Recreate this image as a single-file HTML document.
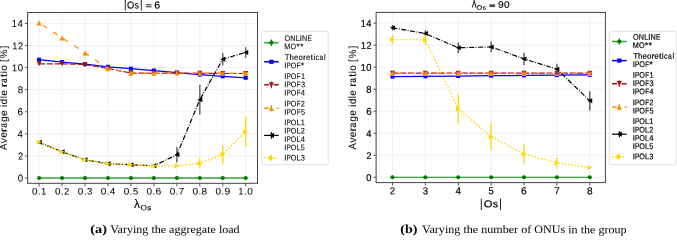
<!DOCTYPE html><html><head><meta charset="utf-8"><style>html,body{margin:0;padding:0;background:#fff;overflow:hidden}</style></head><body><svg width="677" height="237" viewBox="0 0 677 237" style="display:block;will-change:transform">
<rect width="677" height="237" fill="#ffffff"/>
<line x1="39.10" y1="12.5" x2="39.10" y2="183.3" stroke="#e6e6e6" stroke-width="0.6"/>
<line x1="62.06" y1="12.5" x2="62.06" y2="183.3" stroke="#e6e6e6" stroke-width="0.6"/>
<line x1="85.02" y1="12.5" x2="85.02" y2="183.3" stroke="#e6e6e6" stroke-width="0.6"/>
<line x1="107.98" y1="12.5" x2="107.98" y2="183.3" stroke="#e6e6e6" stroke-width="0.6"/>
<line x1="130.94" y1="12.5" x2="130.94" y2="183.3" stroke="#e6e6e6" stroke-width="0.6"/>
<line x1="153.90" y1="12.5" x2="153.90" y2="183.3" stroke="#e6e6e6" stroke-width="0.6"/>
<line x1="176.86" y1="12.5" x2="176.86" y2="183.3" stroke="#e6e6e6" stroke-width="0.6"/>
<line x1="199.82" y1="12.5" x2="199.82" y2="183.3" stroke="#e6e6e6" stroke-width="0.6"/>
<line x1="222.78" y1="12.5" x2="222.78" y2="183.3" stroke="#e6e6e6" stroke-width="0.6"/>
<line x1="245.74" y1="12.5" x2="245.74" y2="183.3" stroke="#e6e6e6" stroke-width="0.6"/>
<line x1="27.6" y1="178.00" x2="257.5" y2="178.00" stroke="#e6e6e6" stroke-width="0.6"/>
<line x1="27.6" y1="155.93" x2="257.5" y2="155.93" stroke="#e6e6e6" stroke-width="0.6"/>
<line x1="27.6" y1="133.86" x2="257.5" y2="133.86" stroke="#e6e6e6" stroke-width="0.6"/>
<line x1="27.6" y1="111.78" x2="257.5" y2="111.78" stroke="#e6e6e6" stroke-width="0.6"/>
<line x1="27.6" y1="89.71" x2="257.5" y2="89.71" stroke="#e6e6e6" stroke-width="0.6"/>
<line x1="27.6" y1="67.64" x2="257.5" y2="67.64" stroke="#e6e6e6" stroke-width="0.6"/>
<line x1="27.6" y1="45.57" x2="257.5" y2="45.57" stroke="#e6e6e6" stroke-width="0.6"/>
<line x1="27.6" y1="23.50" x2="257.5" y2="23.50" stroke="#e6e6e6" stroke-width="0.6"/>
<line x1="392.50" y1="12.4" x2="392.50" y2="182.6" stroke="#e6e6e6" stroke-width="0.6"/>
<line x1="425.38" y1="12.4" x2="425.38" y2="182.6" stroke="#e6e6e6" stroke-width="0.6"/>
<line x1="458.26" y1="12.4" x2="458.26" y2="182.6" stroke="#e6e6e6" stroke-width="0.6"/>
<line x1="491.14" y1="12.4" x2="491.14" y2="182.6" stroke="#e6e6e6" stroke-width="0.6"/>
<line x1="524.02" y1="12.4" x2="524.02" y2="182.6" stroke="#e6e6e6" stroke-width="0.6"/>
<line x1="556.90" y1="12.4" x2="556.90" y2="182.6" stroke="#e6e6e6" stroke-width="0.6"/>
<line x1="589.78" y1="12.4" x2="589.78" y2="182.6" stroke="#e6e6e6" stroke-width="0.6"/>
<line x1="376.1" y1="177.25" x2="605.4" y2="177.25" stroke="#e6e6e6" stroke-width="0.6"/>
<line x1="376.1" y1="155.23" x2="605.4" y2="155.23" stroke="#e6e6e6" stroke-width="0.6"/>
<line x1="376.1" y1="133.21" x2="605.4" y2="133.21" stroke="#e6e6e6" stroke-width="0.6"/>
<line x1="376.1" y1="111.19" x2="605.4" y2="111.19" stroke="#e6e6e6" stroke-width="0.6"/>
<line x1="376.1" y1="89.17" x2="605.4" y2="89.17" stroke="#e6e6e6" stroke-width="0.6"/>
<line x1="376.1" y1="67.15" x2="605.4" y2="67.15" stroke="#e6e6e6" stroke-width="0.6"/>
<line x1="376.1" y1="45.13" x2="605.4" y2="45.13" stroke="#e6e6e6" stroke-width="0.6"/>
<line x1="376.1" y1="23.11" x2="605.4" y2="23.11" stroke="#e6e6e6" stroke-width="0.6"/>
<polyline points="39.10,178.00 62.06,178.00 85.02,178.00 107.98,178.00 130.94,178.00 153.90,178.00 176.86,178.00 199.82,178.00 222.78,178.00 245.74,178.00" fill="none" stroke="#3aa03a" stroke-width="1.6"/>
<circle cx="39.10" cy="178.00" r="2.10" fill="#008000"/>
<circle cx="62.06" cy="178.00" r="2.10" fill="#008000"/>
<circle cx="85.02" cy="178.00" r="2.10" fill="#008000"/>
<circle cx="107.98" cy="178.00" r="2.10" fill="#008000"/>
<circle cx="130.94" cy="178.00" r="2.10" fill="#008000"/>
<circle cx="153.90" cy="178.00" r="2.10" fill="#008000"/>
<circle cx="176.86" cy="178.00" r="2.10" fill="#008000"/>
<circle cx="199.82" cy="178.00" r="2.10" fill="#008000"/>
<circle cx="222.78" cy="178.00" r="2.10" fill="#008000"/>
<circle cx="245.74" cy="178.00" r="2.10" fill="#008000"/>
<polyline points="39.10,59.69 62.06,62.01 85.02,64.22 107.98,66.76 130.94,68.63 153.90,70.51 176.86,72.61 199.82,74.59 222.78,76.36 245.74,77.79" fill="none" stroke="#0000ff" stroke-width="1.25"/>
<rect x="37.10" y="57.69" width="4.00" height="4.00" fill="#0000ff"/>
<rect x="60.06" y="60.01" width="4.00" height="4.00" fill="#0000ff"/>
<rect x="83.02" y="62.22" width="4.00" height="4.00" fill="#0000ff"/>
<rect x="105.98" y="64.76" width="4.00" height="4.00" fill="#0000ff"/>
<rect x="128.94" y="66.63" width="4.00" height="4.00" fill="#0000ff"/>
<rect x="151.90" y="68.51" width="4.00" height="4.00" fill="#0000ff"/>
<rect x="174.86" y="70.61" width="4.00" height="4.00" fill="#0000ff"/>
<rect x="197.82" y="72.59" width="4.00" height="4.00" fill="#0000ff"/>
<rect x="220.78" y="74.36" width="4.00" height="4.00" fill="#0000ff"/>
<rect x="243.74" y="75.79" width="4.00" height="4.00" fill="#0000ff"/>
<polyline points="39.10,63.78 62.06,63.78 85.02,64.55 107.98,68.52 130.94,73.05 153.90,73.27 176.86,73.16 199.82,73.27 222.78,73.49 245.74,73.49" fill="none" stroke="#a01818" stroke-width="1.2" stroke-dasharray="6 1.7" stroke-dashoffset="0"/>
<polygon points="39.10,66.28 36.60,61.28 41.60,61.28" fill="#a01818"/>
<polygon points="62.06,66.28 59.56,61.28 64.56,61.28" fill="#a01818"/>
<polygon points="85.02,67.05 82.52,62.05 87.52,62.05" fill="#a01818"/>
<polygon points="107.98,71.02 105.48,66.02 110.48,66.02" fill="#a01818"/>
<polygon points="130.94,75.55 128.44,70.55 133.44,70.55" fill="#a01818"/>
<polygon points="153.90,75.77 151.40,70.77 156.40,70.77" fill="#a01818"/>
<polygon points="176.86,75.66 174.36,70.66 179.36,70.66" fill="#a01818"/>
<polygon points="199.82,75.77 197.32,70.77 202.32,70.77" fill="#a01818"/>
<polygon points="222.78,75.99 220.28,70.99 225.28,70.99" fill="#a01818"/>
<polygon points="245.74,75.99 243.24,70.99 248.24,70.99" fill="#a01818"/>
<polyline points="39.10,22.83 62.06,37.84 85.02,52.85 107.98,68.63 130.94,73.05 153.90,73.27 176.86,72.83 199.82,73.27 222.78,73.27 245.74,73.27" fill="none" stroke="#ff8c00" stroke-width="1.3" stroke-dasharray="5 7.5" stroke-dashoffset="8"/>
<polygon points="39.10,20.23 36.50,25.43 41.70,25.43" fill="#ff8c00"/>
<polygon points="62.06,35.24 59.46,40.44 64.66,40.44" fill="#ff8c00"/>
<polygon points="85.02,50.25 82.42,55.45 87.62,55.45" fill="#ff8c00"/>
<polygon points="107.98,66.03 105.38,71.23 110.58,71.23" fill="#ff8c00"/>
<polygon points="130.94,70.45 128.34,75.65 133.54,75.65" fill="#ff8c00"/>
<polygon points="153.90,70.67 151.30,75.87 156.50,75.87" fill="#ff8c00"/>
<polygon points="176.86,70.23 174.26,75.43 179.46,75.43" fill="#ff8c00"/>
<polygon points="199.82,70.67 197.22,75.87 202.42,75.87" fill="#ff8c00"/>
<polygon points="222.78,70.67 220.18,75.87 225.38,75.87" fill="#ff8c00"/>
<polygon points="245.74,70.67 243.14,75.87 248.34,75.87" fill="#ff8c00"/>
<line x1="39.10" y1="141.25" x2="39.10" y2="143.01" stroke="#555555" stroke-width="1.3"/>
<line x1="62.06" y1="150.96" x2="62.06" y2="152.72" stroke="#555555" stroke-width="1.3"/>
<line x1="85.02" y1="158.91" x2="85.02" y2="160.67" stroke="#555555" stroke-width="1.3"/>
<line x1="107.98" y1="162.77" x2="107.98" y2="164.53" stroke="#555555" stroke-width="1.3"/>
<line x1="130.94" y1="163.88" x2="130.94" y2="165.64" stroke="#555555" stroke-width="1.3"/>
<line x1="153.90" y1="164.87" x2="153.90" y2="166.63" stroke="#555555" stroke-width="1.3"/>
<line x1="176.86" y1="147.12" x2="176.86" y2="162.52" stroke="#555555" stroke-width="1.3"/>
<line x1="199.82" y1="84.79" x2="199.82" y2="114.71" stroke="#555555" stroke-width="1.3"/>
<line x1="222.78" y1="52.98" x2="222.78" y2="65.30" stroke="#555555" stroke-width="1.3"/>
<line x1="245.74" y1="47.13" x2="245.74" y2="57.69" stroke="#555555" stroke-width="1.3"/>
<polyline points="39.10,142.13 62.06,151.84 85.02,159.79 107.98,163.65 130.94,164.76 153.90,165.75 176.86,154.82 199.82,99.75 222.78,59.14 245.74,52.41" fill="none" stroke="#000000" stroke-width="1.2" stroke-dasharray="5 1.5 0.9 1.5" stroke-dashoffset="0"/>
<polygon points="36.60,142.13 41.60,139.63 41.60,144.63" fill="#000000"/>
<polygon points="59.56,151.84 64.56,149.34 64.56,154.34" fill="#000000"/>
<polygon points="82.52,159.79 87.52,157.29 87.52,162.29" fill="#000000"/>
<polygon points="105.48,163.65 110.48,161.15 110.48,166.15" fill="#000000"/>
<polygon points="128.44,164.76 133.44,162.26 133.44,167.26" fill="#000000"/>
<polygon points="151.40,165.75 156.40,163.25 156.40,168.25" fill="#000000"/>
<polygon points="174.36,154.82 179.36,152.32 179.36,157.32" fill="#000000"/>
<polygon points="197.32,99.75 202.32,97.25 202.32,102.25" fill="#000000"/>
<polygon points="220.28,59.14 225.28,56.64 225.28,61.64" fill="#000000"/>
<polygon points="243.24,52.41 248.24,49.91 248.24,54.91" fill="#000000"/>
<line x1="39.10" y1="141.58" x2="39.10" y2="142.68" stroke="#ffd700" stroke-width="1.3"/>
<line x1="62.06" y1="151.29" x2="62.06" y2="152.39" stroke="#ffd700" stroke-width="1.3"/>
<line x1="85.02" y1="159.24" x2="85.02" y2="160.34" stroke="#ffd700" stroke-width="1.3"/>
<line x1="107.98" y1="163.10" x2="107.98" y2="164.20" stroke="#ffd700" stroke-width="1.3"/>
<line x1="130.94" y1="164.21" x2="130.94" y2="165.31" stroke="#ffd700" stroke-width="1.3"/>
<line x1="153.90" y1="165.20" x2="153.90" y2="166.30" stroke="#ffd700" stroke-width="1.3"/>
<line x1="176.86" y1="164.87" x2="176.86" y2="167.07" stroke="#ffd700" stroke-width="1.3"/>
<line x1="199.82" y1="158.48" x2="199.82" y2="168.38" stroke="#ffd700" stroke-width="1.3"/>
<line x1="222.78" y1="145.03" x2="222.78" y2="163.73" stroke="#ffd700" stroke-width="1.3"/>
<line x1="245.74" y1="116.58" x2="245.74" y2="146.28" stroke="#ffd700" stroke-width="1.3"/>
<polyline points="39.10,142.13 62.06,151.84 85.02,159.79 107.98,163.65 130.94,164.76 153.90,165.75 176.86,165.97 199.82,163.43 222.78,154.38 245.74,131.43" fill="none" stroke="#ffd700" stroke-width="1.3" stroke-dasharray="1.7 1.7" stroke-dashoffset="0"/>
<polygon points="41.50,142.13 36.70,139.73 36.70,144.53" fill="#ffd700"/>
<polygon points="64.46,151.84 59.66,149.44 59.66,154.24" fill="#ffd700"/>
<polygon points="87.42,159.79 82.62,157.39 82.62,162.19" fill="#ffd700"/>
<polygon points="110.38,163.65 105.58,161.25 105.58,166.05" fill="#ffd700"/>
<polygon points="133.34,164.76 128.54,162.36 128.54,167.16" fill="#ffd700"/>
<polygon points="156.30,165.75 151.50,163.35 151.50,168.15" fill="#ffd700"/>
<polygon points="179.26,165.97 174.46,163.57 174.46,168.37" fill="#ffd700"/>
<polygon points="202.22,163.43 197.42,161.03 197.42,165.83" fill="#ffd700"/>
<polygon points="225.18,154.38 220.38,151.98 220.38,156.78" fill="#ffd700"/>
<polygon points="248.14,131.43 243.34,129.03 243.34,133.83" fill="#ffd700"/>
<polyline points="392.50,177.25 425.38,177.25 458.26,177.25 491.14,177.25 524.02,177.25 556.90,177.25 589.78,177.25" fill="none" stroke="#138813" stroke-width="1.2"/>
<circle cx="392.50" cy="177.25" r="2.10" fill="#008000"/>
<circle cx="425.38" cy="177.25" r="2.10" fill="#008000"/>
<circle cx="458.26" cy="177.25" r="2.10" fill="#008000"/>
<circle cx="491.14" cy="177.25" r="2.10" fill="#008000"/>
<circle cx="524.02" cy="177.25" r="2.10" fill="#008000"/>
<circle cx="556.90" cy="177.25" r="2.10" fill="#008000"/>
<circle cx="589.78" cy="177.25" r="2.10" fill="#008000"/>
<polyline points="392.50,76.62 425.38,76.32 458.26,76.02 491.14,75.73 524.02,75.43 556.90,75.13 589.78,74.83" fill="none" stroke="#0000ff" stroke-width="1.25"/>
<rect x="390.50" y="74.62" width="4.00" height="4.00" fill="#0000ff"/>
<rect x="423.38" y="74.32" width="4.00" height="4.00" fill="#0000ff"/>
<rect x="456.26" y="74.02" width="4.00" height="4.00" fill="#0000ff"/>
<rect x="489.14" y="73.73" width="4.00" height="4.00" fill="#0000ff"/>
<rect x="522.02" y="73.43" width="4.00" height="4.00" fill="#0000ff"/>
<rect x="554.90" y="73.13" width="4.00" height="4.00" fill="#0000ff"/>
<rect x="587.78" y="72.83" width="4.00" height="4.00" fill="#0000ff"/>
<polyline points="392.50,73.21 425.38,73.21 458.26,73.21 491.14,73.21 524.02,73.21 556.90,73.21 589.78,73.21" fill="none" stroke="#a01818" stroke-width="1.2" stroke-dasharray="6 1.7" stroke-dashoffset="0"/>
<polygon points="392.50,75.71 390.00,70.71 395.00,70.71" fill="#a01818"/>
<polygon points="425.38,75.71 422.88,70.71 427.88,70.71" fill="#a01818"/>
<polygon points="458.26,75.71 455.76,70.71 460.76,70.71" fill="#a01818"/>
<polygon points="491.14,75.71 488.64,70.71 493.64,70.71" fill="#a01818"/>
<polygon points="524.02,75.71 521.52,70.71 526.52,70.71" fill="#a01818"/>
<polygon points="556.90,75.71 554.40,70.71 559.40,70.71" fill="#a01818"/>
<polygon points="589.78,75.71 587.28,70.71 592.28,70.71" fill="#a01818"/>
<polyline points="392.50,73.43 425.38,73.43 458.26,73.43 491.14,73.43 524.02,73.43 556.90,73.43 589.78,73.43" fill="none" stroke="#ff8c00" stroke-width="1.3" stroke-dasharray="5 7.5" stroke-dashoffset="8"/>
<polygon points="392.50,70.83 389.90,76.03 395.10,76.03" fill="#ff8c00"/>
<polygon points="425.38,70.83 422.78,76.03 427.98,76.03" fill="#ff8c00"/>
<polygon points="458.26,70.83 455.66,76.03 460.86,76.03" fill="#ff8c00"/>
<polygon points="491.14,70.83 488.54,76.03 493.74,76.03" fill="#ff8c00"/>
<polygon points="524.02,70.83 521.42,76.03 526.62,76.03" fill="#ff8c00"/>
<polygon points="556.90,70.83 554.30,76.03 559.50,76.03" fill="#ff8c00"/>
<polygon points="589.78,70.83 587.18,76.03 592.38,76.03" fill="#ff8c00"/>
<line x1="392.50" y1="24.98" x2="392.50" y2="30.48" stroke="#4a4a4a" stroke-width="1.3"/>
<line x1="425.38" y1="30.49" x2="425.38" y2="36.65" stroke="#4a4a4a" stroke-width="1.3"/>
<line x1="458.26" y1="42.49" x2="458.26" y2="53.05" stroke="#4a4a4a" stroke-width="1.3"/>
<line x1="491.14" y1="41.61" x2="491.14" y2="52.17" stroke="#4a4a4a" stroke-width="1.3"/>
<line x1="524.02" y1="52.73" x2="524.02" y2="65.05" stroke="#4a4a4a" stroke-width="1.3"/>
<line x1="556.90" y1="63.63" x2="556.90" y2="74.63" stroke="#4a4a4a" stroke-width="1.3"/>
<line x1="589.78" y1="91.27" x2="589.78" y2="110.41" stroke="#4a4a4a" stroke-width="1.3"/>
<polyline points="392.50,27.73 425.38,33.57 458.26,47.77 491.14,46.89 524.02,58.89 556.90,69.13 589.78,100.84" fill="none" stroke="#000000" stroke-width="1.2" stroke-dasharray="5 1.5 0.9 1.5" stroke-dashoffset="0"/>
<polygon points="390.00,27.73 395.00,25.23 395.00,30.23" fill="#000000"/>
<polygon points="422.88,33.57 427.88,31.07 427.88,36.07" fill="#000000"/>
<polygon points="455.76,47.77 460.76,45.27 460.76,50.27" fill="#000000"/>
<polygon points="488.64,46.89 493.64,44.39 493.64,49.39" fill="#000000"/>
<polygon points="521.52,58.89 526.52,56.39 526.52,61.39" fill="#000000"/>
<polygon points="554.40,69.13 559.40,66.63 559.40,71.63" fill="#000000"/>
<polygon points="587.28,100.84 592.28,98.34 592.28,103.34" fill="#000000"/>
<line x1="392.50" y1="35.11" x2="392.50" y2="43.91" stroke="#ffd700" stroke-width="1.3"/>
<line x1="425.38" y1="35.01" x2="425.38" y2="44.69" stroke="#ffd700" stroke-width="1.3"/>
<line x1="458.26" y1="94.03" x2="458.26" y2="123.51" stroke="#ffd700" stroke-width="1.3"/>
<line x1="491.14" y1="122.98" x2="491.14" y2="150.48" stroke="#ffd700" stroke-width="1.3"/>
<line x1="524.02" y1="144.56" x2="524.02" y2="163.26" stroke="#ffd700" stroke-width="1.3"/>
<line x1="556.90" y1="157.55" x2="556.90" y2="168.11" stroke="#ffd700" stroke-width="1.3"/>
<line x1="589.78" y1="166.46" x2="589.78" y2="168.66" stroke="#ffd700" stroke-width="1.3"/>
<polyline points="392.50,39.51 425.38,39.85 458.26,108.77 491.14,136.73 524.02,153.91 556.90,162.83 589.78,167.56" fill="none" stroke="#ffd700" stroke-width="1.3" stroke-dasharray="1.6 1.8" stroke-dashoffset="0"/>
<polygon points="394.90,39.51 390.10,37.11 390.10,41.91" fill="#ffd700"/>
<polygon points="427.78,39.85 422.98,37.45 422.98,42.25" fill="#ffd700"/>
<polygon points="460.66,108.77 455.86,106.37 455.86,111.17" fill="#ffd700"/>
<polygon points="493.54,136.73 488.74,134.33 488.74,139.13" fill="#ffd700"/>
<polygon points="526.42,153.91 521.62,151.51 521.62,156.31" fill="#ffd700"/>
<polygon points="559.30,162.83 554.50,160.43 554.50,165.23" fill="#ffd700"/>
<polygon points="592.18,167.56 587.38,165.16 587.38,169.96" fill="#ffd700"/>
<rect x="27.6" y="12.5" width="229.90" height="170.80" fill="none" stroke="#444444" stroke-width="1"/>
<line x1="39.10" y1="183.3" x2="39.10" y2="186.3" stroke="#444444" stroke-width="0.9"/>
<g font-size="9.452" font-family='"Liberation Sans", sans-serif' font-weight="normal" fill="#000000" stroke="#000000" stroke-width="0.05" transform="rotate(0.05 32.33 194.50)"><text x="31.94" y="194.50" textLength="5.54" lengthAdjust="spacingAndGlyphs">0</text><text x="37.80" y="194.50" textLength="2.84" lengthAdjust="spacingAndGlyphs">.</text><text x="41.04" y="194.50" textLength="5.29" lengthAdjust="spacingAndGlyphs">1</text></g>
<line x1="62.06" y1="183.3" x2="62.06" y2="186.3" stroke="#444444" stroke-width="0.9"/>
<g font-size="9.452" font-family='"Liberation Sans", sans-serif' font-weight="normal" fill="#000000" stroke="#000000" stroke-width="0.05" transform="rotate(0.05 55.33 194.50)"><text x="54.94" y="194.50" textLength="5.54" lengthAdjust="spacingAndGlyphs">0</text><text x="60.80" y="194.50" textLength="2.84" lengthAdjust="spacingAndGlyphs">.</text><text x="63.93" y="194.50" textLength="5.34" lengthAdjust="spacingAndGlyphs">2</text></g>
<line x1="85.02" y1="183.3" x2="85.02" y2="186.3" stroke="#444444" stroke-width="0.9"/>
<g font-size="9.452" font-family='"Liberation Sans", sans-serif' font-weight="normal" fill="#000000" stroke="#000000" stroke-width="0.05" transform="rotate(0.05 78.20 194.50)"><text x="77.81" y="194.50" textLength="5.54" lengthAdjust="spacingAndGlyphs">0</text><text x="83.66" y="194.50" textLength="2.84" lengthAdjust="spacingAndGlyphs">.</text><text x="86.94" y="194.50" textLength="5.32" lengthAdjust="spacingAndGlyphs">3</text></g>
<line x1="107.98" y1="183.3" x2="107.98" y2="186.3" stroke="#444444" stroke-width="0.9"/>
<g font-size="9.452" font-family='"Liberation Sans", sans-serif' font-weight="normal" fill="#000000" stroke="#000000" stroke-width="0.05" transform="rotate(0.05 101.04 194.50)"><text x="100.65" y="194.50" textLength="5.54" lengthAdjust="spacingAndGlyphs">0</text><text x="106.51" y="194.50" textLength="2.84" lengthAdjust="spacingAndGlyphs">.</text><text x="109.67" y="194.50" textLength="5.54" lengthAdjust="spacingAndGlyphs">4</text></g>
<line x1="130.94" y1="183.3" x2="130.94" y2="186.3" stroke="#444444" stroke-width="0.9"/>
<g font-size="9.452" font-family='"Liberation Sans", sans-serif' font-weight="normal" fill="#000000" stroke="#000000" stroke-width="0.05" transform="rotate(0.05 124.15 194.50)"><text x="123.76" y="194.50" textLength="5.54" lengthAdjust="spacingAndGlyphs">0</text><text x="129.62" y="194.50" textLength="2.84" lengthAdjust="spacingAndGlyphs">.</text><text x="132.90" y="194.50" textLength="5.23" lengthAdjust="spacingAndGlyphs">5</text></g>
<line x1="153.90" y1="183.3" x2="153.90" y2="186.3" stroke="#444444" stroke-width="0.9"/>
<g font-size="9.452" font-family='"Liberation Sans", sans-serif' font-weight="normal" fill="#000000" stroke="#000000" stroke-width="0.05" transform="rotate(0.05 146.99 194.50)"><text x="146.61" y="194.50" textLength="5.54" lengthAdjust="spacingAndGlyphs">0</text><text x="152.46" y="194.50" textLength="2.84" lengthAdjust="spacingAndGlyphs">.</text><text x="155.52" y="194.50" textLength="5.73" lengthAdjust="spacingAndGlyphs">6</text></g>
<line x1="176.86" y1="183.3" x2="176.86" y2="186.3" stroke="#444444" stroke-width="0.9"/>
<g font-size="9.452" font-family='"Liberation Sans", sans-serif' font-weight="normal" fill="#000000" stroke="#000000" stroke-width="0.05" transform="rotate(0.05 170.06 194.50)"><text x="169.67" y="194.50" textLength="5.54" lengthAdjust="spacingAndGlyphs">0</text><text x="175.53" y="194.50" textLength="2.84" lengthAdjust="spacingAndGlyphs">.</text><text x="178.73" y="194.50" textLength="5.42" lengthAdjust="spacingAndGlyphs">7</text></g>
<line x1="199.82" y1="183.3" x2="199.82" y2="186.3" stroke="#444444" stroke-width="0.9"/>
<g font-size="9.452" font-family='"Liberation Sans", sans-serif' font-weight="normal" fill="#000000" stroke="#000000" stroke-width="0.05" transform="rotate(0.05 192.94 194.50)"><text x="192.55" y="194.50" textLength="5.54" lengthAdjust="spacingAndGlyphs">0</text><text x="198.41" y="194.50" textLength="2.84" lengthAdjust="spacingAndGlyphs">.</text><text x="201.54" y="194.50" textLength="5.60" lengthAdjust="spacingAndGlyphs">8</text></g>
<line x1="222.78" y1="183.3" x2="222.78" y2="186.3" stroke="#444444" stroke-width="0.9"/>
<g font-size="9.452" font-family='"Liberation Sans", sans-serif' font-weight="normal" fill="#000000" stroke="#000000" stroke-width="0.05" transform="rotate(0.05 215.91 194.50)"><text x="215.52" y="194.50" textLength="5.54" lengthAdjust="spacingAndGlyphs">0</text><text x="221.38" y="194.50" textLength="2.84" lengthAdjust="spacingAndGlyphs">.</text><text x="224.42" y="194.50" textLength="5.72" lengthAdjust="spacingAndGlyphs">9</text></g>
<line x1="245.74" y1="183.3" x2="245.74" y2="186.3" stroke="#444444" stroke-width="0.9"/>
<g font-size="9.452" font-family='"Liberation Sans", sans-serif' font-weight="normal" fill="#000000" stroke="#000000" stroke-width="0.05" transform="rotate(0.05 239.06 194.50)"><text x="238.33" y="194.50" textLength="5.29" lengthAdjust="spacingAndGlyphs">1</text><text x="244.11" y="194.50" textLength="2.84" lengthAdjust="spacingAndGlyphs">.</text><text x="247.27" y="194.50" textLength="5.54" lengthAdjust="spacingAndGlyphs">0</text></g>
<line x1="25.0" y1="178.00" x2="27.6" y2="178.00" stroke="#444444" stroke-width="0.9"/>
<g font-size="9.882" font-family='"Liberation Sans", sans-serif' font-weight="normal" fill="#000000" stroke="#000000" stroke-width="0.05" transform="rotate(0.05 18.01 181.60)"><text x="17.64" y="181.60" textLength="5.33" lengthAdjust="spacingAndGlyphs">0</text></g>
<line x1="25.0" y1="155.93" x2="27.6" y2="155.93" stroke="#444444" stroke-width="0.9"/>
<g font-size="9.882" font-family='"Liberation Sans", sans-serif' font-weight="normal" fill="#000000" stroke="#000000" stroke-width="0.05" transform="rotate(0.05 18.39 159.53)"><text x="17.92" y="159.53" textLength="5.14" lengthAdjust="spacingAndGlyphs">2</text></g>
<line x1="25.0" y1="133.86" x2="27.6" y2="133.86" stroke="#444444" stroke-width="0.9"/>
<g font-size="10.029" font-family='"Liberation Sans", sans-serif' font-weight="normal" fill="#000000" stroke="#000000" stroke-width="0.05" transform="rotate(0.05 17.77 137.46)"><text x="17.55" y="137.46" textLength="5.34" lengthAdjust="spacingAndGlyphs">4</text></g>
<line x1="25.0" y1="111.78" x2="27.6" y2="111.78" stroke="#444444" stroke-width="0.9"/>
<g font-size="9.882" font-family='"Liberation Sans", sans-serif' font-weight="normal" fill="#000000" stroke="#000000" stroke-width="0.05" transform="rotate(0.05 18.02 115.38)"><text x="17.51" y="115.38" textLength="5.52" lengthAdjust="spacingAndGlyphs">6</text></g>
<line x1="25.0" y1="89.71" x2="27.6" y2="89.71" stroke="#444444" stroke-width="0.9"/>
<g font-size="9.882" font-family='"Liberation Sans", sans-serif' font-weight="normal" fill="#000000" stroke="#000000" stroke-width="0.05" transform="rotate(0.05 18.05 93.31)"><text x="17.63" y="93.31" textLength="5.39" lengthAdjust="spacingAndGlyphs">8</text></g>
<line x1="25.0" y1="67.64" x2="27.6" y2="67.64" stroke="#444444" stroke-width="0.9"/>
<g font-size="9.882" font-family='"Liberation Sans", sans-serif' font-weight="normal" fill="#000000" stroke="#000000" stroke-width="0.05" transform="rotate(0.05 12.62 71.24)"><text x="11.93" y="71.24" textLength="5.10" lengthAdjust="spacingAndGlyphs">1</text><text x="17.64" y="71.24" textLength="5.33" lengthAdjust="spacingAndGlyphs">0</text></g>
<line x1="25.0" y1="45.57" x2="27.6" y2="45.57" stroke="#444444" stroke-width="0.9"/>
<g font-size="9.882" font-family='"Liberation Sans", sans-serif' font-weight="normal" fill="#000000" stroke="#000000" stroke-width="0.05" transform="rotate(0.05 12.93 49.17)"><text x="12.23" y="49.17" textLength="5.10" lengthAdjust="spacingAndGlyphs">1</text><text x="17.92" y="49.17" textLength="5.14" lengthAdjust="spacingAndGlyphs">2</text></g>
<line x1="25.0" y1="23.50" x2="27.6" y2="23.50" stroke="#444444" stroke-width="0.9"/>
<g font-size="10.029" font-family='"Liberation Sans", sans-serif' font-weight="normal" fill="#000000" stroke="#000000" stroke-width="0.05" transform="rotate(0.05 12.53 27.10)"><text x="11.83" y="27.10" textLength="5.10" lengthAdjust="spacingAndGlyphs">1</text><text x="17.55" y="27.10" textLength="5.34" lengthAdjust="spacingAndGlyphs">4</text></g>
<rect x="376.1" y="12.4" width="229.30" height="170.20" fill="none" stroke="#444444" stroke-width="1"/>
<line x1="392.50" y1="182.6" x2="392.50" y2="185.6" stroke="#444444" stroke-width="0.9"/>
<g font-size="10.025" font-family='"Liberation Sans", sans-serif' font-weight="normal" fill="#000000" stroke="#000000" stroke-width="0.2" transform="rotate(0.05 390.31 194.30)"><text x="389.83" y="194.30" textLength="5.34" lengthAdjust="spacingAndGlyphs">2</text></g>
<line x1="425.38" y1="182.6" x2="425.38" y2="185.6" stroke="#444444" stroke-width="0.9"/>
<g font-size="10.025" font-family='"Liberation Sans", sans-serif' font-weight="normal" fill="#000000" stroke="#000000" stroke-width="0.2" transform="rotate(0.05 423.11 194.30)"><text x="422.75" y="194.30" textLength="5.32" lengthAdjust="spacingAndGlyphs">3</text></g>
<line x1="458.26" y1="182.6" x2="458.26" y2="185.6" stroke="#444444" stroke-width="0.9"/>
<g font-size="10.175" font-family='"Liberation Sans", sans-serif' font-weight="normal" fill="#000000" stroke="#000000" stroke-width="0.2" transform="rotate(0.05 455.75 194.30)"><text x="455.52" y="194.30" textLength="5.54" lengthAdjust="spacingAndGlyphs">4</text></g>
<line x1="491.14" y1="182.6" x2="491.14" y2="185.6" stroke="#444444" stroke-width="0.9"/>
<g font-size="10.175" font-family='"Liberation Sans", sans-serif' font-weight="normal" fill="#000000" stroke="#000000" stroke-width="0.2" transform="rotate(0.05 488.91 194.30)"><text x="488.53" y="194.30" textLength="5.23" lengthAdjust="spacingAndGlyphs">5</text></g>
<line x1="524.02" y1="182.6" x2="524.02" y2="185.6" stroke="#444444" stroke-width="0.9"/>
<g font-size="10.025" font-family='"Liberation Sans", sans-serif' font-weight="normal" fill="#000000" stroke="#000000" stroke-width="0.2" transform="rotate(0.05 521.64 194.30)"><text x="521.12" y="194.30" textLength="5.73" lengthAdjust="spacingAndGlyphs">6</text></g>
<line x1="556.90" y1="182.6" x2="556.90" y2="185.6" stroke="#444444" stroke-width="0.9"/>
<g font-size="10.175" font-family='"Liberation Sans", sans-serif' font-weight="normal" fill="#000000" stroke="#000000" stroke-width="0.2" transform="rotate(0.05 554.69 194.30)"><text x="554.19" y="194.30" textLength="5.42" lengthAdjust="spacingAndGlyphs">7</text></g>
<line x1="589.78" y1="182.6" x2="589.78" y2="185.6" stroke="#444444" stroke-width="0.9"/>
<g font-size="10.025" font-family='"Liberation Sans", sans-serif' font-weight="normal" fill="#000000" stroke="#000000" stroke-width="0.2" transform="rotate(0.05 587.42 194.30)"><text x="586.98" y="194.30" textLength="5.60" lengthAdjust="spacingAndGlyphs">8</text></g>
<line x1="373.5" y1="177.25" x2="376.1" y2="177.25" stroke="#444444" stroke-width="0.9"/>
<g font-size="9.739" font-family='"Liberation Sans", sans-serif' font-weight="normal" fill="#000000" stroke="#000000" stroke-width="0.2" transform="rotate(0.05 366.64 180.95)"><text x="366.28" y="180.95" textLength="5.19" lengthAdjust="spacingAndGlyphs">0</text></g>
<line x1="373.5" y1="155.23" x2="376.1" y2="155.23" stroke="#444444" stroke-width="0.9"/>
<g font-size="9.739" font-family='"Liberation Sans", sans-serif' font-weight="normal" fill="#000000" stroke="#000000" stroke-width="0.2" transform="rotate(0.05 367.00 158.93)"><text x="366.55" y="158.93" textLength="5.00" lengthAdjust="spacingAndGlyphs">2</text></g>
<line x1="373.5" y1="133.21" x2="376.1" y2="133.21" stroke="#444444" stroke-width="0.9"/>
<g font-size="9.884" font-family='"Liberation Sans", sans-serif' font-weight="normal" fill="#000000" stroke="#000000" stroke-width="0.2" transform="rotate(0.05 366.40 136.91)"><text x="366.18" y="136.91" textLength="5.19" lengthAdjust="spacingAndGlyphs">4</text></g>
<line x1="373.5" y1="111.19" x2="376.1" y2="111.19" stroke="#444444" stroke-width="0.9"/>
<g font-size="9.739" font-family='"Liberation Sans", sans-serif' font-weight="normal" fill="#000000" stroke="#000000" stroke-width="0.2" transform="rotate(0.05 366.64 114.89)"><text x="366.15" y="114.89" textLength="5.37" lengthAdjust="spacingAndGlyphs">6</text></g>
<line x1="373.5" y1="89.17" x2="376.1" y2="89.17" stroke="#444444" stroke-width="0.9"/>
<g font-size="9.739" font-family='"Liberation Sans", sans-serif' font-weight="normal" fill="#000000" stroke="#000000" stroke-width="0.2" transform="rotate(0.05 366.68 92.87)"><text x="366.27" y="92.87" textLength="5.24" lengthAdjust="spacingAndGlyphs">8</text></g>
<line x1="373.5" y1="67.15" x2="376.1" y2="67.15" stroke="#444444" stroke-width="0.9"/>
<g font-size="9.739" font-family='"Liberation Sans", sans-serif' font-weight="normal" fill="#000000" stroke="#000000" stroke-width="0.2" transform="rotate(0.05 361.40 70.85)"><text x="360.72" y="70.85" textLength="4.96" lengthAdjust="spacingAndGlyphs">1</text><text x="366.28" y="70.85" textLength="5.19" lengthAdjust="spacingAndGlyphs">0</text></g>
<line x1="373.5" y1="45.13" x2="376.1" y2="45.13" stroke="#444444" stroke-width="0.9"/>
<g font-size="9.739" font-family='"Liberation Sans", sans-serif' font-weight="normal" fill="#000000" stroke="#000000" stroke-width="0.2" transform="rotate(0.05 361.70 48.83)"><text x="361.02" y="48.83" textLength="4.96" lengthAdjust="spacingAndGlyphs">1</text><text x="366.55" y="48.83" textLength="5.00" lengthAdjust="spacingAndGlyphs">2</text></g>
<line x1="373.5" y1="23.11" x2="376.1" y2="23.11" stroke="#444444" stroke-width="0.9"/>
<g font-size="9.884" font-family='"Liberation Sans", sans-serif' font-weight="normal" fill="#000000" stroke="#000000" stroke-width="0.2" transform="rotate(0.05 361.31 26.81)"><text x="360.63" y="26.81" textLength="4.96" lengthAdjust="spacingAndGlyphs">1</text><text x="366.18" y="26.81" textLength="5.19" lengthAdjust="spacingAndGlyphs">4</text></g>
<line x1="125.30" y1="-1.00" x2="125.30" y2="10.60" stroke="#000000" stroke-width="0.85"/>
<line x1="141.30" y1="-1.00" x2="141.30" y2="10.60" stroke="#000000" stroke-width="0.85"/>
<g font-size="9.882" font-family='"Liberation Sans", sans-serif' font-weight="normal" fill="#000000" stroke="#000000" stroke-width="0.15" transform="rotate(0.05 127.50 8.55)"><text x="127.06" y="8.55" textLength="7.22" lengthAdjust="spacingAndGlyphs">O</text><text x="134.62" y="8.55" textLength="4.50" lengthAdjust="spacingAndGlyphs">s</text></g>
<line x1="145.9" y1="4.8" x2="151.6" y2="4.8" stroke="#000" stroke-width="0.85"/><line x1="145.9" y1="6.8" x2="151.6" y2="6.8" stroke="#000" stroke-width="0.85"/>
<g font-size="9.882" font-family='"Liberation Sans", sans-serif' font-weight="normal" fill="#000000" stroke="#000000" stroke-width="0.15" transform="rotate(0.05 154.80 8.55)"><text x="154.26" y="8.55" textLength="5.91" lengthAdjust="spacingAndGlyphs">6</text></g>
<g font-size="13.387" font-family='"Liberation Sans", sans-serif' font-weight="normal" fill="#000000" stroke="#000000" stroke-width="0.15" transform="rotate(0.05 471.70 7.60)"><text x="471.64" y="7.60" textLength="4.75" lengthAdjust="spacingAndGlyphs">λ</text></g>
<g font-size="6.588" font-family='"Liberation Sans", sans-serif' font-weight="normal" fill="#000000" stroke="#000000" stroke-width="0.1" transform="rotate(0.05 476.90 9.70)"><text x="476.55" y="9.70" textLength="5.69" lengthAdjust="spacingAndGlyphs">O</text><text x="482.51" y="9.70" textLength="3.55" lengthAdjust="spacingAndGlyphs">s</text></g>
<rect x="489.4" y="4.3" width="5.7" height="2.8" fill="#505050"/>
<g font-size="9.452" font-family='"Liberation Sans", sans-serif' font-weight="normal" fill="#000000" stroke="#000000" stroke-width="0.15" transform="rotate(0.05 498.40 7.75)"><text x="497.92" y="7.75" textLength="5.72" lengthAdjust="spacingAndGlyphs">9</text><text x="504.05" y="7.75" textLength="5.54" lengthAdjust="spacingAndGlyphs">0</text></g>
<g font-size="9.884" font-family='"Liberation Sans", sans-serif' font-weight="normal" fill="#000000" stroke="#000000" stroke-width="0.06" transform="translate(6.90,98.15) rotate(-89.95)"><text x="-51.77" y="0.00" textLength="6.40" lengthAdjust="spacingAndGlyphs">A</text><text x="-45.06" y="0.00" textLength="5.14" lengthAdjust="spacingAndGlyphs">v</text><text x="-39.58" y="0.00" textLength="5.72" lengthAdjust="spacingAndGlyphs">e</text><text x="-33.76" y="0.00" textLength="4.06" lengthAdjust="spacingAndGlyphs">r</text><text x="-29.69" y="0.00" textLength="4.76" lengthAdjust="spacingAndGlyphs">a</text><text x="-23.97" y="0.00" textLength="5.76" lengthAdjust="spacingAndGlyphs">g</text><text x="-17.93" y="0.00" textLength="5.72" lengthAdjust="spacingAndGlyphs">e</text><text x="-8.88" y="0.00" textLength="2.16" lengthAdjust="spacingAndGlyphs">i</text><text x="-6.39" y="0.00" textLength="5.76" lengthAdjust="spacingAndGlyphs">d</text><text x="-0.19" y="0.00" textLength="2.16" lengthAdjust="spacingAndGlyphs">l</text><text x="2.30" y="0.00" textLength="5.72" lengthAdjust="spacingAndGlyphs">e</text><text x="11.15" y="0.00" textLength="4.06" lengthAdjust="spacingAndGlyphs">r</text><text x="15.22" y="0.00" textLength="4.76" lengthAdjust="spacingAndGlyphs">a</text><text x="20.91" y="0.00" textLength="3.54" lengthAdjust="spacingAndGlyphs">t</text><text x="24.83" y="0.00" textLength="2.16" lengthAdjust="spacingAndGlyphs">i</text><text x="27.33" y="0.00" textLength="5.63" lengthAdjust="spacingAndGlyphs">o</text><text x="36.20" y="0.00" textLength="2.76" lengthAdjust="spacingAndGlyphs">[</text><text x="39.98" y="0.00" textLength="8.70" lengthAdjust="spacingAndGlyphs">%</text><text x="49.70" y="0.00" textLength="2.76" lengthAdjust="spacingAndGlyphs">]</text></g>
<g font-size="10.320" font-family='"Liberation Sans", sans-serif' font-weight="normal" fill="#000000" stroke="#000000" stroke-width="0.06" transform="translate(356.00,97.95) rotate(-89.95)"><text x="-51.57" y="0.00" textLength="6.37" lengthAdjust="spacingAndGlyphs">A</text><text x="-44.89" y="0.00" textLength="5.12" lengthAdjust="spacingAndGlyphs">v</text><text x="-39.43" y="0.00" textLength="5.70" lengthAdjust="spacingAndGlyphs">e</text><text x="-33.63" y="0.00" textLength="4.05" lengthAdjust="spacingAndGlyphs">r</text><text x="-29.57" y="0.00" textLength="4.74" lengthAdjust="spacingAndGlyphs">a</text><text x="-23.88" y="0.00" textLength="5.73" lengthAdjust="spacingAndGlyphs">g</text><text x="-17.86" y="0.00" textLength="5.70" lengthAdjust="spacingAndGlyphs">e</text><text x="-8.85" y="0.00" textLength="2.15" lengthAdjust="spacingAndGlyphs">i</text><text x="-6.37" y="0.00" textLength="5.73" lengthAdjust="spacingAndGlyphs">d</text><text x="-0.19" y="0.00" textLength="2.15" lengthAdjust="spacingAndGlyphs">l</text><text x="2.29" y="0.00" textLength="5.70" lengthAdjust="spacingAndGlyphs">e</text><text x="11.11" y="0.00" textLength="4.05" lengthAdjust="spacingAndGlyphs">r</text><text x="15.16" y="0.00" textLength="4.74" lengthAdjust="spacingAndGlyphs">a</text><text x="20.83" y="0.00" textLength="3.52" lengthAdjust="spacingAndGlyphs">t</text><text x="24.74" y="0.00" textLength="2.15" lengthAdjust="spacingAndGlyphs">i</text><text x="27.23" y="0.00" textLength="5.61" lengthAdjust="spacingAndGlyphs">o</text><text x="36.06" y="0.00" textLength="2.75" lengthAdjust="spacingAndGlyphs">[</text><text x="39.82" y="0.00" textLength="8.66" lengthAdjust="spacingAndGlyphs">%</text><text x="49.51" y="0.00" textLength="2.75" lengthAdjust="spacingAndGlyphs">]</text></g>
<g font-size="12.282" font-family='"Liberation Sans", sans-serif' font-weight="normal" fill="#000000" stroke="#000000" stroke-width="0.1" transform="rotate(0.05 134.10 207.90)"><text x="134.02" y="207.90" textLength="5.99" lengthAdjust="spacingAndGlyphs">λ</text></g>
<g font-size="7.590" font-family='"Liberation Sans", sans-serif' font-weight="normal" fill="#000000" stroke="#000000" stroke-width="0.15" transform="rotate(0.05 140.90 210.30)"><text x="140.51" y="210.30" textLength="6.46" lengthAdjust="spacingAndGlyphs">O</text><text x="147.27" y="210.30" textLength="4.02" lengthAdjust="spacingAndGlyphs">s</text></g>
<line x1="481.30" y1="198.60" x2="481.30" y2="210.10" stroke="#000000" stroke-width="0.85"/>
<line x1="500.50" y1="198.60" x2="500.50" y2="210.10" stroke="#000000" stroke-width="0.85"/>
<g font-size="9.882" font-family='"Liberation Sans", sans-serif' font-weight="normal" fill="#000000" stroke="#000000" stroke-width="0.22" transform="rotate(0.05 484.20 207.30)"><text x="483.67" y="207.30" textLength="8.69" lengthAdjust="spacingAndGlyphs">O</text><text x="492.77" y="207.30" textLength="5.42" lengthAdjust="spacingAndGlyphs">s</text></g>
<rect x="261.5" y="31.3" width="66.70" height="133.40" rx="2" ry="2" fill="#ffffff" fill-opacity="0.8" stroke="#dedede" stroke-width="0.9"/>
<g font-size="8.140" font-family='"Liberation Sans", sans-serif' font-weight="normal" fill="#000000" stroke="#000000" stroke-width="0.08" transform="rotate(0.05 284.90 40.90)"><text x="284.56" y="40.90" textLength="5.61" lengthAdjust="spacingAndGlyphs">O</text><text x="290.36" y="40.90" textLength="5.21" lengthAdjust="spacingAndGlyphs">N</text><text x="295.80" y="40.90" textLength="4.18" lengthAdjust="spacingAndGlyphs">L</text><text x="299.77" y="40.90" textLength="2.14" lengthAdjust="spacingAndGlyphs">I</text><text x="302.04" y="40.90" textLength="5.21" lengthAdjust="spacingAndGlyphs">N</text><text x="307.57" y="40.90" textLength="4.22" lengthAdjust="spacingAndGlyphs">E</text></g>
<g font-size="8.140" font-family='"Liberation Sans", sans-serif' font-weight="normal" fill="#000000" stroke="#000000" stroke-width="0.08" transform="rotate(0.05 284.90 49.20)"><text x="284.30" y="49.20" textLength="6.06" lengthAdjust="spacingAndGlyphs">M</text><text x="290.55" y="49.20" textLength="5.61" lengthAdjust="spacingAndGlyphs">O</text><text x="296.30" y="49.20" textLength="3.50" lengthAdjust="spacingAndGlyphs">*</text><text x="299.95" y="49.20" textLength="3.50" lengthAdjust="spacingAndGlyphs">*</text></g>
<line x1="264.10" y1="42.70" x2="278.70" y2="42.70" stroke="#3aa03a" stroke-width="1.5"/>
<line x1="271.40" y1="39.40" x2="271.40" y2="46.00" stroke="#008000" stroke-width="1.1"/>
<circle cx="271.40" cy="42.70" r="2.10" fill="#008000"/>
<g font-size="8.140" font-family='"Liberation Sans", sans-serif' font-weight="normal" fill="#000000" stroke="#000000" stroke-width="0.08" transform="rotate(0.05 284.90 60.00)"><text x="284.72" y="60.00" textLength="4.86" lengthAdjust="spacingAndGlyphs">T</text><text x="289.49" y="60.00" textLength="4.41" lengthAdjust="spacingAndGlyphs">h</text><text x="294.08" y="60.00" textLength="4.39" lengthAdjust="spacingAndGlyphs">e</text><text x="298.58" y="60.00" textLength="4.32" lengthAdjust="spacingAndGlyphs">o</text><text x="303.01" y="60.00" textLength="3.11" lengthAdjust="spacingAndGlyphs">r</text><text x="306.03" y="60.00" textLength="4.39" lengthAdjust="spacingAndGlyphs">e</text><text x="310.51" y="60.00" textLength="2.71" lengthAdjust="spacingAndGlyphs">t</text><text x="313.51" y="60.00" textLength="1.66" lengthAdjust="spacingAndGlyphs">i</text><text x="315.44" y="60.00" textLength="3.66" lengthAdjust="spacingAndGlyphs">c</text><text x="319.52" y="60.00" textLength="3.65" lengthAdjust="spacingAndGlyphs">a</text><text x="324.02" y="60.00" textLength="1.66" lengthAdjust="spacingAndGlyphs">l</text></g>
<g font-size="8.140" font-family='"Liberation Sans", sans-serif' font-weight="normal" fill="#000000" stroke="#000000" stroke-width="0.08" transform="rotate(0.05 284.90 68.30)"><text x="284.19" y="68.30" textLength="2.14" lengthAdjust="spacingAndGlyphs">I</text><text x="286.52" y="68.30" textLength="4.31" lengthAdjust="spacingAndGlyphs">P</text><text x="290.81" y="68.30" textLength="5.61" lengthAdjust="spacingAndGlyphs">O</text><text x="296.69" y="68.30" textLength="3.82" lengthAdjust="spacingAndGlyphs">F</text><text x="300.76" y="68.30" textLength="3.50" lengthAdjust="spacingAndGlyphs">*</text></g>
<line x1="264.10" y1="61.80" x2="278.70" y2="61.80" stroke="#0000ff" stroke-width="1.5"/>
<rect x="269.30" y="59.70" width="4.20" height="4.20" fill="#0000ff"/>
<g font-size="8.140" font-family='"Liberation Sans", sans-serif' font-weight="normal" fill="#000000" stroke="#000000" stroke-width="0.08" transform="rotate(0.05 284.90 78.90)"><text x="284.19" y="78.90" textLength="2.14" lengthAdjust="spacingAndGlyphs">I</text><text x="286.52" y="78.90" textLength="4.31" lengthAdjust="spacingAndGlyphs">P</text><text x="290.81" y="78.90" textLength="5.61" lengthAdjust="spacingAndGlyphs">O</text><text x="296.69" y="78.90" textLength="3.82" lengthAdjust="spacingAndGlyphs">F</text><text x="300.93" y="78.90" textLength="4.09" lengthAdjust="spacingAndGlyphs">1</text></g>
<g font-size="8.140" font-family='"Liberation Sans", sans-serif' font-weight="normal" fill="#000000" stroke="#000000" stroke-width="0.08" transform="rotate(0.05 284.90 87.20)"><text x="284.19" y="87.20" textLength="2.14" lengthAdjust="spacingAndGlyphs">I</text><text x="286.52" y="87.20" textLength="4.31" lengthAdjust="spacingAndGlyphs">P</text><text x="290.81" y="87.20" textLength="5.61" lengthAdjust="spacingAndGlyphs">O</text><text x="296.69" y="87.20" textLength="3.82" lengthAdjust="spacingAndGlyphs">F</text><text x="300.96" y="87.20" textLength="4.11" lengthAdjust="spacingAndGlyphs">3</text></g>
<g font-size="8.140" font-family='"Liberation Sans", sans-serif' font-weight="normal" fill="#000000" stroke="#000000" stroke-width="0.08" transform="rotate(0.05 284.90 95.50)"><text x="284.19" y="95.50" textLength="2.14" lengthAdjust="spacingAndGlyphs">I</text><text x="286.52" y="95.50" textLength="4.31" lengthAdjust="spacingAndGlyphs">P</text><text x="290.81" y="95.50" textLength="5.61" lengthAdjust="spacingAndGlyphs">O</text><text x="296.69" y="95.50" textLength="3.82" lengthAdjust="spacingAndGlyphs">F</text><text x="300.86" y="95.50" textLength="4.28" lengthAdjust="spacingAndGlyphs">4</text></g>
<line x1="264.10" y1="84.85" x2="278.70" y2="84.85" stroke="#a01818" stroke-width="1.5" stroke-dasharray="5 4.6"/>
<line x1="271.40" y1="81.55" x2="271.40" y2="88.15" stroke="#a01818" stroke-width="1.1"/>
<polygon points="271.40,87.45 268.80,82.25 274.00,82.25" fill="#a01818"/>
<g font-size="8.140" font-family='"Liberation Sans", sans-serif' font-weight="normal" fill="#000000" stroke="#000000" stroke-width="0.08" transform="rotate(0.05 284.90 106.50)"><text x="284.19" y="106.50" textLength="2.14" lengthAdjust="spacingAndGlyphs">I</text><text x="286.52" y="106.50" textLength="4.31" lengthAdjust="spacingAndGlyphs">P</text><text x="290.81" y="106.50" textLength="5.61" lengthAdjust="spacingAndGlyphs">O</text><text x="296.69" y="106.50" textLength="3.82" lengthAdjust="spacingAndGlyphs">F</text><text x="300.85" y="106.50" textLength="4.13" lengthAdjust="spacingAndGlyphs">2</text></g>
<g font-size="8.140" font-family='"Liberation Sans", sans-serif' font-weight="normal" fill="#000000" stroke="#000000" stroke-width="0.08" transform="rotate(0.05 284.90 114.80)"><text x="284.19" y="114.80" textLength="2.14" lengthAdjust="spacingAndGlyphs">I</text><text x="286.52" y="114.80" textLength="4.31" lengthAdjust="spacingAndGlyphs">P</text><text x="290.81" y="114.80" textLength="5.61" lengthAdjust="spacingAndGlyphs">O</text><text x="296.69" y="114.80" textLength="3.82" lengthAdjust="spacingAndGlyphs">F</text><text x="300.96" y="114.80" textLength="4.04" lengthAdjust="spacingAndGlyphs">5</text></g>
<line x1="264.10" y1="108.30" x2="278.70" y2="108.30" stroke="#ff8c00" stroke-width="1.5" stroke-dasharray="4.6 8.2 2.2"/>
<line x1="271.40" y1="105.00" x2="271.40" y2="111.60" stroke="#ff8c00" stroke-width="1.1"/>
<polygon points="271.40,105.70 268.80,110.90 274.00,110.90" fill="#ff8c00"/>
<g font-size="8.140" font-family='"Liberation Sans", sans-serif' font-weight="normal" fill="#000000" stroke="#000000" stroke-width="0.08" transform="rotate(0.05 284.90 125.30)"><text x="284.19" y="125.30" textLength="2.14" lengthAdjust="spacingAndGlyphs">I</text><text x="286.52" y="125.30" textLength="4.31" lengthAdjust="spacingAndGlyphs">P</text><text x="290.81" y="125.30" textLength="5.61" lengthAdjust="spacingAndGlyphs">O</text><text x="296.58" y="125.30" textLength="4.18" lengthAdjust="spacingAndGlyphs">L</text><text x="300.79" y="125.30" textLength="4.09" lengthAdjust="spacingAndGlyphs">1</text></g>
<g font-size="8.140" font-family='"Liberation Sans", sans-serif' font-weight="normal" fill="#000000" stroke="#000000" stroke-width="0.08" transform="rotate(0.05 284.90 133.60)"><text x="284.19" y="133.60" textLength="2.14" lengthAdjust="spacingAndGlyphs">I</text><text x="286.52" y="133.60" textLength="4.31" lengthAdjust="spacingAndGlyphs">P</text><text x="290.81" y="133.60" textLength="5.61" lengthAdjust="spacingAndGlyphs">O</text><text x="296.58" y="133.60" textLength="4.18" lengthAdjust="spacingAndGlyphs">L</text><text x="300.71" y="133.60" textLength="4.13" lengthAdjust="spacingAndGlyphs">2</text></g>
<g font-size="8.140" font-family='"Liberation Sans", sans-serif' font-weight="normal" fill="#000000" stroke="#000000" stroke-width="0.08" transform="rotate(0.05 284.90 141.90)"><text x="284.19" y="141.90" textLength="2.14" lengthAdjust="spacingAndGlyphs">I</text><text x="286.52" y="141.90" textLength="4.31" lengthAdjust="spacingAndGlyphs">P</text><text x="290.81" y="141.90" textLength="5.61" lengthAdjust="spacingAndGlyphs">O</text><text x="296.58" y="141.90" textLength="4.18" lengthAdjust="spacingAndGlyphs">L</text><text x="300.73" y="141.90" textLength="4.28" lengthAdjust="spacingAndGlyphs">4</text></g>
<g font-size="8.140" font-family='"Liberation Sans", sans-serif' font-weight="normal" fill="#000000" stroke="#000000" stroke-width="0.08" transform="rotate(0.05 284.90 150.20)"><text x="284.19" y="150.20" textLength="2.14" lengthAdjust="spacingAndGlyphs">I</text><text x="286.52" y="150.20" textLength="4.31" lengthAdjust="spacingAndGlyphs">P</text><text x="290.81" y="150.20" textLength="5.61" lengthAdjust="spacingAndGlyphs">O</text><text x="296.58" y="150.20" textLength="4.18" lengthAdjust="spacingAndGlyphs">L</text><text x="300.82" y="150.20" textLength="4.04" lengthAdjust="spacingAndGlyphs">5</text></g>
<line x1="264.10" y1="135.40" x2="278.70" y2="135.40" stroke="#000000" stroke-width="1.2"/>
<line x1="271.40" y1="132.10" x2="271.40" y2="138.70" stroke="#000000" stroke-width="1.1"/>
<polygon points="268.80,135.40 274.00,132.80 274.00,138.00" fill="#000000"/>
<g font-size="8.140" font-family='"Liberation Sans", sans-serif' font-weight="normal" fill="#000000" stroke="#000000" stroke-width="0.08" transform="rotate(0.05 284.90 160.40)"><text x="284.19" y="160.40" textLength="2.14" lengthAdjust="spacingAndGlyphs">I</text><text x="286.52" y="160.40" textLength="4.31" lengthAdjust="spacingAndGlyphs">P</text><text x="290.81" y="160.40" textLength="5.61" lengthAdjust="spacingAndGlyphs">O</text><text x="296.58" y="160.40" textLength="4.18" lengthAdjust="spacingAndGlyphs">L</text><text x="300.83" y="160.40" textLength="4.11" lengthAdjust="spacingAndGlyphs">3</text></g>
<line x1="264.10" y1="158.05" x2="278.70" y2="158.05" stroke="#ffd700" stroke-width="1.5" stroke-dasharray="1.3 2.2"/>
<line x1="271.40" y1="154.75" x2="271.40" y2="161.35" stroke="#ffd700" stroke-width="1.1"/>
<polygon points="274.00,158.05 268.80,155.45 268.80,160.65" fill="#ffd700"/>
<rect x="609.4" y="31.3" width="66.70" height="133.40" rx="2" ry="2" fill="#ffffff" fill-opacity="0.8" stroke="#dedede" stroke-width="0.9"/>
<g font-size="8.140" font-family='"Liberation Sans", sans-serif' font-weight="normal" fill="#000000" stroke="#000000" stroke-width="0.2" transform="rotate(0.05 633.40 39.70)"><text x="633.06" y="39.70" textLength="5.61" lengthAdjust="spacingAndGlyphs">O</text><text x="638.86" y="39.70" textLength="5.21" lengthAdjust="spacingAndGlyphs">N</text><text x="644.30" y="39.70" textLength="4.18" lengthAdjust="spacingAndGlyphs">L</text><text x="648.27" y="39.70" textLength="2.14" lengthAdjust="spacingAndGlyphs">I</text><text x="650.54" y="39.70" textLength="5.21" lengthAdjust="spacingAndGlyphs">N</text><text x="656.07" y="39.70" textLength="4.22" lengthAdjust="spacingAndGlyphs">E</text></g>
<g font-size="8.140" font-family='"Liberation Sans", sans-serif' font-weight="normal" fill="#000000" stroke="#000000" stroke-width="0.2" transform="rotate(0.05 633.40 48.00)"><text x="632.80" y="48.00" textLength="6.06" lengthAdjust="spacingAndGlyphs">M</text><text x="639.05" y="48.00" textLength="5.61" lengthAdjust="spacingAndGlyphs">O</text><text x="644.80" y="48.00" textLength="3.50" lengthAdjust="spacingAndGlyphs">*</text><text x="648.45" y="48.00" textLength="3.50" lengthAdjust="spacingAndGlyphs">*</text></g>
<line x1="612.00" y1="41.50" x2="626.60" y2="41.50" stroke="#3aa03a" stroke-width="1.5"/>
<line x1="619.30" y1="38.20" x2="619.30" y2="44.80" stroke="#008000" stroke-width="1.1"/>
<circle cx="619.30" cy="41.50" r="2.10" fill="#008000"/>
<g font-size="8.140" font-family='"Liberation Sans", sans-serif' font-weight="normal" fill="#000000" stroke="#000000" stroke-width="0.2" transform="rotate(0.05 633.40 58.80)"><text x="633.22" y="58.80" textLength="4.86" lengthAdjust="spacingAndGlyphs">T</text><text x="637.99" y="58.80" textLength="4.41" lengthAdjust="spacingAndGlyphs">h</text><text x="642.58" y="58.80" textLength="4.39" lengthAdjust="spacingAndGlyphs">e</text><text x="647.08" y="58.80" textLength="4.32" lengthAdjust="spacingAndGlyphs">o</text><text x="651.51" y="58.80" textLength="3.11" lengthAdjust="spacingAndGlyphs">r</text><text x="654.53" y="58.80" textLength="4.39" lengthAdjust="spacingAndGlyphs">e</text><text x="659.01" y="58.80" textLength="2.71" lengthAdjust="spacingAndGlyphs">t</text><text x="662.01" y="58.80" textLength="1.66" lengthAdjust="spacingAndGlyphs">i</text><text x="663.94" y="58.80" textLength="3.66" lengthAdjust="spacingAndGlyphs">c</text><text x="668.02" y="58.80" textLength="3.65" lengthAdjust="spacingAndGlyphs">a</text><text x="672.52" y="58.80" textLength="1.66" lengthAdjust="spacingAndGlyphs">l</text></g>
<g font-size="8.140" font-family='"Liberation Sans", sans-serif' font-weight="normal" fill="#000000" stroke="#000000" stroke-width="0.2" transform="rotate(0.05 633.40 67.10)"><text x="632.69" y="67.10" textLength="2.14" lengthAdjust="spacingAndGlyphs">I</text><text x="635.02" y="67.10" textLength="4.31" lengthAdjust="spacingAndGlyphs">P</text><text x="639.31" y="67.10" textLength="5.61" lengthAdjust="spacingAndGlyphs">O</text><text x="645.19" y="67.10" textLength="3.82" lengthAdjust="spacingAndGlyphs">F</text><text x="649.26" y="67.10" textLength="3.50" lengthAdjust="spacingAndGlyphs">*</text></g>
<line x1="612.00" y1="60.60" x2="626.60" y2="60.60" stroke="#0000ff" stroke-width="1.5"/>
<rect x="617.20" y="58.50" width="4.20" height="4.20" fill="#0000ff"/>
<g font-size="8.140" font-family='"Liberation Sans", sans-serif' font-weight="normal" fill="#000000" stroke="#000000" stroke-width="0.2" transform="rotate(0.05 633.40 77.70)"><text x="632.69" y="77.70" textLength="2.14" lengthAdjust="spacingAndGlyphs">I</text><text x="635.02" y="77.70" textLength="4.31" lengthAdjust="spacingAndGlyphs">P</text><text x="639.31" y="77.70" textLength="5.61" lengthAdjust="spacingAndGlyphs">O</text><text x="645.19" y="77.70" textLength="3.82" lengthAdjust="spacingAndGlyphs">F</text><text x="649.43" y="77.70" textLength="4.09" lengthAdjust="spacingAndGlyphs">1</text></g>
<g font-size="8.140" font-family='"Liberation Sans", sans-serif' font-weight="normal" fill="#000000" stroke="#000000" stroke-width="0.2" transform="rotate(0.05 633.40 86.00)"><text x="632.69" y="86.00" textLength="2.14" lengthAdjust="spacingAndGlyphs">I</text><text x="635.02" y="86.00" textLength="4.31" lengthAdjust="spacingAndGlyphs">P</text><text x="639.31" y="86.00" textLength="5.61" lengthAdjust="spacingAndGlyphs">O</text><text x="645.19" y="86.00" textLength="3.82" lengthAdjust="spacingAndGlyphs">F</text><text x="649.46" y="86.00" textLength="4.11" lengthAdjust="spacingAndGlyphs">3</text></g>
<g font-size="8.140" font-family='"Liberation Sans", sans-serif' font-weight="normal" fill="#000000" stroke="#000000" stroke-width="0.2" transform="rotate(0.05 633.40 94.30)"><text x="632.69" y="94.30" textLength="2.14" lengthAdjust="spacingAndGlyphs">I</text><text x="635.02" y="94.30" textLength="4.31" lengthAdjust="spacingAndGlyphs">P</text><text x="639.31" y="94.30" textLength="5.61" lengthAdjust="spacingAndGlyphs">O</text><text x="645.19" y="94.30" textLength="3.82" lengthAdjust="spacingAndGlyphs">F</text><text x="649.36" y="94.30" textLength="4.28" lengthAdjust="spacingAndGlyphs">4</text></g>
<line x1="612.00" y1="83.65" x2="626.60" y2="83.65" stroke="#a01818" stroke-width="1.5" stroke-dasharray="5 4.6"/>
<line x1="619.30" y1="80.35" x2="619.30" y2="86.95" stroke="#a01818" stroke-width="1.1"/>
<polygon points="619.30,86.25 616.70,81.05 621.90,81.05" fill="#a01818"/>
<g font-size="8.140" font-family='"Liberation Sans", sans-serif' font-weight="normal" fill="#000000" stroke="#000000" stroke-width="0.2" transform="rotate(0.05 633.40 105.30)"><text x="632.69" y="105.30" textLength="2.14" lengthAdjust="spacingAndGlyphs">I</text><text x="635.02" y="105.30" textLength="4.31" lengthAdjust="spacingAndGlyphs">P</text><text x="639.31" y="105.30" textLength="5.61" lengthAdjust="spacingAndGlyphs">O</text><text x="645.19" y="105.30" textLength="3.82" lengthAdjust="spacingAndGlyphs">F</text><text x="649.35" y="105.30" textLength="4.13" lengthAdjust="spacingAndGlyphs">2</text></g>
<g font-size="8.140" font-family='"Liberation Sans", sans-serif' font-weight="normal" fill="#000000" stroke="#000000" stroke-width="0.2" transform="rotate(0.05 633.40 113.60)"><text x="632.69" y="113.60" textLength="2.14" lengthAdjust="spacingAndGlyphs">I</text><text x="635.02" y="113.60" textLength="4.31" lengthAdjust="spacingAndGlyphs">P</text><text x="639.31" y="113.60" textLength="5.61" lengthAdjust="spacingAndGlyphs">O</text><text x="645.19" y="113.60" textLength="3.82" lengthAdjust="spacingAndGlyphs">F</text><text x="649.46" y="113.60" textLength="4.04" lengthAdjust="spacingAndGlyphs">5</text></g>
<line x1="612.00" y1="107.10" x2="626.60" y2="107.10" stroke="#ff8c00" stroke-width="1.5" stroke-dasharray="4.6 8.2 2.2"/>
<line x1="619.30" y1="103.80" x2="619.30" y2="110.40" stroke="#ff8c00" stroke-width="1.1"/>
<polygon points="619.30,104.50 616.70,109.70 621.90,109.70" fill="#ff8c00"/>
<g font-size="8.140" font-family='"Liberation Sans", sans-serif' font-weight="normal" fill="#000000" stroke="#000000" stroke-width="0.2" transform="rotate(0.05 633.40 124.10)"><text x="632.69" y="124.10" textLength="2.14" lengthAdjust="spacingAndGlyphs">I</text><text x="635.02" y="124.10" textLength="4.31" lengthAdjust="spacingAndGlyphs">P</text><text x="639.31" y="124.10" textLength="5.61" lengthAdjust="spacingAndGlyphs">O</text><text x="645.08" y="124.10" textLength="4.18" lengthAdjust="spacingAndGlyphs">L</text><text x="649.29" y="124.10" textLength="4.09" lengthAdjust="spacingAndGlyphs">1</text></g>
<g font-size="8.140" font-family='"Liberation Sans", sans-serif' font-weight="normal" fill="#000000" stroke="#000000" stroke-width="0.2" transform="rotate(0.05 633.40 132.40)"><text x="632.69" y="132.40" textLength="2.14" lengthAdjust="spacingAndGlyphs">I</text><text x="635.02" y="132.40" textLength="4.31" lengthAdjust="spacingAndGlyphs">P</text><text x="639.31" y="132.40" textLength="5.61" lengthAdjust="spacingAndGlyphs">O</text><text x="645.08" y="132.40" textLength="4.18" lengthAdjust="spacingAndGlyphs">L</text><text x="649.21" y="132.40" textLength="4.13" lengthAdjust="spacingAndGlyphs">2</text></g>
<g font-size="8.140" font-family='"Liberation Sans", sans-serif' font-weight="normal" fill="#000000" stroke="#000000" stroke-width="0.2" transform="rotate(0.05 633.40 140.70)"><text x="632.69" y="140.70" textLength="2.14" lengthAdjust="spacingAndGlyphs">I</text><text x="635.02" y="140.70" textLength="4.31" lengthAdjust="spacingAndGlyphs">P</text><text x="639.31" y="140.70" textLength="5.61" lengthAdjust="spacingAndGlyphs">O</text><text x="645.08" y="140.70" textLength="4.18" lengthAdjust="spacingAndGlyphs">L</text><text x="649.23" y="140.70" textLength="4.28" lengthAdjust="spacingAndGlyphs">4</text></g>
<g font-size="8.140" font-family='"Liberation Sans", sans-serif' font-weight="normal" fill="#000000" stroke="#000000" stroke-width="0.2" transform="rotate(0.05 633.40 149.00)"><text x="632.69" y="149.00" textLength="2.14" lengthAdjust="spacingAndGlyphs">I</text><text x="635.02" y="149.00" textLength="4.31" lengthAdjust="spacingAndGlyphs">P</text><text x="639.31" y="149.00" textLength="5.61" lengthAdjust="spacingAndGlyphs">O</text><text x="645.08" y="149.00" textLength="4.18" lengthAdjust="spacingAndGlyphs">L</text><text x="649.32" y="149.00" textLength="4.04" lengthAdjust="spacingAndGlyphs">5</text></g>
<line x1="612.00" y1="134.20" x2="626.60" y2="134.20" stroke="#000000" stroke-width="1.2"/>
<line x1="619.30" y1="130.90" x2="619.30" y2="137.50" stroke="#000000" stroke-width="1.1"/>
<polygon points="616.70,134.20 621.90,131.60 621.90,136.80" fill="#000000"/>
<g font-size="8.140" font-family='"Liberation Sans", sans-serif' font-weight="normal" fill="#000000" stroke="#000000" stroke-width="0.2" transform="rotate(0.05 633.40 159.20)"><text x="632.69" y="159.20" textLength="2.14" lengthAdjust="spacingAndGlyphs">I</text><text x="635.02" y="159.20" textLength="4.31" lengthAdjust="spacingAndGlyphs">P</text><text x="639.31" y="159.20" textLength="5.61" lengthAdjust="spacingAndGlyphs">O</text><text x="645.08" y="159.20" textLength="4.18" lengthAdjust="spacingAndGlyphs">L</text><text x="649.33" y="159.20" textLength="4.11" lengthAdjust="spacingAndGlyphs">3</text></g>
<line x1="612.00" y1="156.85" x2="626.60" y2="156.85" stroke="#ffd700" stroke-width="1.5" stroke-dasharray="1.3 2.2"/>
<line x1="619.30" y1="153.55" x2="619.30" y2="160.15" stroke="#ffd700" stroke-width="1.1"/>
<polygon points="621.90,156.85 616.70,154.25 616.70,159.45" fill="#ffd700"/>
<g font-size="12.251" font-family='"Liberation Serif", serif' font-weight="bold" fill="#000000" transform="rotate(0.05 90.90 233.00)"><text x="90.27" y="233.00" textLength="16.66" lengthAdjust="spacingAndGlyphs">(a)</text></g>
<g font-size="11.301" font-family='"Liberation Serif", serif' font-weight="normal" fill="#000000" transform="rotate(0.05 110.40 233.00)"><text x="110.27" y="233.00" textLength="129.38" lengthAdjust="spacingAndGlyphs">Varying the aggregate load</text></g>
<g font-size="12.251" font-family='"Liberation Serif", serif' font-weight="bold" fill="#000000" transform="rotate(0.05 400.90 233.00)"><text x="400.28" y="233.00" textLength="17.24" lengthAdjust="spacingAndGlyphs">(b)</text></g>
<g font-size="11.301" font-family='"Liberation Serif", serif' font-weight="normal" fill="#000000" transform="rotate(0.05 422.20 233.00)"><text x="422.07" y="233.00" textLength="204.60" lengthAdjust="spacingAndGlyphs">Varying the number of ONUs in the group</text></g>
</svg></body></html>
